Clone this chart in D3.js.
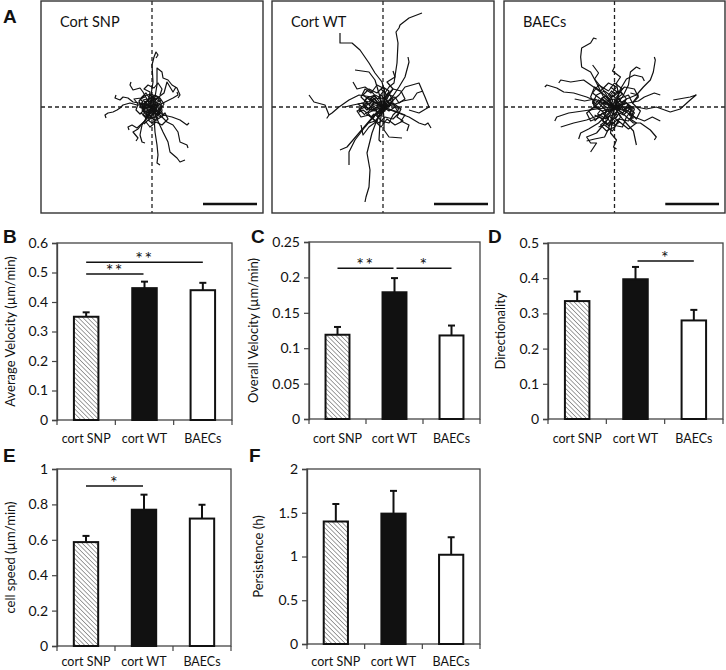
<!DOCTYPE html>
<html><head><meta charset="utf-8">
<script src="https://cdn.jsdelivr.net/npm/d3@7"></script>
<style>body{margin:0;background:#fff}svg{display:block}</style>
</head><body><svg id="c" width="726" height="670"></svg>
<script>
// ---------------- data ----------------
const categories = ["cort SNP", "cort WT", "BAECs"];
const avgVelocity = [0.35, 0.447, 0.44];
const avgVelocityErr = [0.015, 0.022, 0.025];
const overallVelocity = [0.119, 0.179, 0.118];
const overallVelocityErr = [0.011, 0.020, 0.014];
const directionality = [0.335, 0.397, 0.28];
const directionalityErr = [0.027, 0.035, 0.030];
const cellSpeed = [0.587, 0.77, 0.72];
const cellSpeedErr = [0.035, 0.085, 0.078];
const persistence = [1.40, 1.49, 1.02];
const persistenceErr = [0.20, 0.26, 0.20];

const ticksB = [0, 0.1, 0.2, 0.3, 0.4, 0.5, 0.6];
const ticksC = [0, 0.05, 0.1, 0.15, 0.2, 0.25];
const ticksD = [0, 0.1, 0.2, 0.3, 0.4, 0.5];
const ticksE = [0, 0.2, 0.4, 0.6, 0.8, 1];
const ticksF = [0, 0.5, 1, 1.5, 2];

// significance brackets: [fromIndex, toIndex, level (data units), label]
const sigB = [[0, 1, 0.495, "**"], [0, 2, 0.535, "**"]];
const sigC = [[0, 1, 0.213, "**"], [1, 2, 0.213, "*"]];
const sigD = [[1, 2, 0.449, "*"]];
const sigE = [[0, 1, 0.904, "*"]];
const sigF = [];

const trackTitles = ["Cort SNP", "Cort WT", "BAECs"];

// trajectories (relative to origin, x right / y down)
const tracksSNP = [
  "0,0 -1,-12 1,-25 0,-42 2,-50 4,-55 6,-52 4,-49",
  "0,0 3,-10 5,-22 5,-39 10,-35 11,-29 16,-27 20,-22 25,-19 28,-12 26,-9",
  "0,0 -4,-6 -9,-15 -12,-19 -19,-17 -22,-22 -21,-25",
  "0,0 -8,-2 -15,-2 -22,-4 -29,-2 -32,1 -35,3 -39,5 -44,6 -47,8 -46,11",
  "0,0 -7,-3 -19,-5 -24,-9 -29,-10 -32,-7 -37,-9 -36,-12",
  "0,0 -5,6 -7,14 -15,21 -20,18 -24,20 -23,23",
  "0,0 -4,10 -10,18 -12,28 -10,35 -7,36",
  "0,0 -6,12 -14,22 -19,25 -14,31 -16,34",
  "0,0 2,10 3,25 5,38 6,48 5,56 8,58",
  "0,0 5,12 11,25 16,35 18,45 25,51 28,55 33,53",
  "0,0 8,8 15,15 21,18 26,25 28,35 35,38 36,41",
  "0,0 6,4 11,8 20,10 28,13 35,18 37,16",
  "0,0 7,-2 13,-5 21,-9 26,-12 25,-15",
  "0,0 4,-8 12,-14 15,-25 21,-15 24,-20",
  "0,0 -6,-4 -3,-9 3,-7 6,-2 2,4 -5,6 -9,1 -7,-5 0,-10 7,-6",
  "0,0 4,5 -2,9 -8,5 -10,-2 -4,-6 3,-3 8,3 5,9 -1,12 -6,8",
  "0,0 -3,3 -11,0 -13,-6 -8,-11 -1,-13 5,-10 9,-4 10,4 4,10 -4,11 -11,6",
  "0,0 5,-3 9,2 6,7 0,5 -5,9 -9,4 -6,-1 -1,-4 2,-8 -2,-12",
  "0,0 -2,-5 3,-12 8,-9 12,-3 8,3 12,8 6,12 0,16 -4,13 -8,17",
  "0,0 -7,2 -12,7 -16,3 -14,-3 -18,-8 -11,-9 -6,-14 -2,-8",
  "0,0 3,7 9,10 13,6 16,12 10,18 4,15 -2,20 -6,15",
  "0,0 -4,-2 -2,-15 -8,-18 -4,-22 2,-19 6,-24 10,-18 8,-12",
  "0,0 -3,-2 -5,1 -8,-1 -6,-4 -9,-7 -5,-8 -2,-5 1,-7 4,-4 2,-1 5,2 3,5 0,3 -3,6 -6,4",
  "0,0 2,-3 5,-1 7,-4 9,0 6,3 8,6 4,7 1,4 -2,7 -4,3 -7,5 -9,2 -6,0",
  "0,0 -2,4 1,7 -1,10 -4,8 -6,11 -9,8 -7,5 -10,3 -8,0 -11,-3 -7,-3",
  "0,0 3,2 2,-2 6,-1 5,-5 9,-6 7,-9 3,-8 1,-11 -2,-8 -1,-4",
  "0,0 -4,1 -3,-3 -7,-2 -8,2 -11,1 -12,-3 -9,-5 -12,-8 -7,-10",
  "0,0 1,4 4,2 6,6 3,9 6,11 2,13 -1,10 -3,13 -5,9 -2,7"
];
const tracksWT = [
  "0,0 2,-8 2,-14 6,-20 11,-24 14,-44 15,-64 13,-75 16,-79 17,-82 26,-89 39,-94",
  "0,0 2,-14 -1,-25 -8,-34 -14,-44 -23,-57 -31,-64 -43,-64 -43,-74",
  "0,0 -11,-10 -24,-12 -34,-7 -44,0 -51,6 -54,8 -56,11 -54,8 -58,-2 -69,-5 -74,-12",
  "0,0 -5,10 -11,26 -16,46 -13,63 -14,80 -17,90 -18,95",
  "0,0 -8,8 -18,20 -28,33 -34,45 -34,58",
  "0,0 -12,12 -24,26 -36,40 -43,43",
  "0,0 10,4 26,10 36,16 42,18 45,16 48,21",
  "0,0 8,-5 16,-12 22,-20 36,-24 42,-10 46,0 36,6 26,3",
  "0,0 8,-8 16,-20 22,-30 26,-45 25,-50",
  "0,0 1,12 1,23 6,30 19,31",
  "0,0 -3,15 -4,33 -2,35",
  "0,0 -8,-27 -14,-35 -28,-37",
  "0,0 -12,-3 -20,-4 -30,-2 -38,0",
  "0,0 -10,-14 -18,-20 -26,-18 -30,-25",
  "0,0 6,-12 10,-18 4,-25 12,-30 10,-36",
  "0,0 12,4 22,8 18,14 26,18 24,24",
  "0,0 -6,14 -14,20 -20,28 -22,18",
  "0,0 10,-2 20,-6 30,-8 34,-14 40,-16",
  "0,0 -8,-5 -14,2 -20,-3 -16,-9 -8,-12 0,-8 6,-14 10,-6 4,2 -4,6 -12,10 -18,6",
  "0,0 6,4 12,0 16,6 10,12 2,10 -4,16 -10,12 -6,4 -14,-2 -10,-8",
  "0,0 -4,-10 2,-18 -6,-22 -12,-14 -18,-18 -22,-10 -16,-4 -24,2 -18,8",
  "0,0 10,-4 18,2 14,10 20,14 12,18 4,12 -2,20 -8,14 -14,16",
  "0,0 -10,4 -18,0 -26,4 -22,10 -14,8 -8,14 -2,8 4,-2 0,-6 -6,-4",
  "0,0 4,-6 12,-10 16,-4 22,-8 18,-16 10,-18 4,-12 -2,-18",
  "0,0 -6,8 -2,14 6,16 10,8 16,2 8,-4 2,2 -4,-2 -10,-6 -16,-2",
  "0,0 -12,-6 -20,-12 -14,-18 -6,-14 0,-20 6,-16 2,-8 8,-2",
  "0,0 -4,-3 -7,1 -11,-2 -9,-6 -13,-8 -9,-11 -5,-8 -2,-12 2,-8 0,-4 4,-1 2,3 -2,1 -5,5 -9,3",
  "0,0 -3,3 -6,0 -10,3 -13,0 -16,3 -19,0 -15,-3 -18,-6 -14,-5 -11,-9",
  "0,0 2,4 -2,6 -5,10 -9,7 -12,10 -15,6 -11,4 -8,1",
  "0,0 3,-3 6,0 9,-4 7,-8 10,-11 5,-12 3,-8 -1,-10",
  "0,0 -5,0 -8,4 -12,2 -16,6 -20,3 -24,5 -21,0 -25,-3 -20,-4",
  "0,0 -2,-5 -6,-4 -8,-9 -12,-6 -15,-10 -18,-7 -15,-3"
];
const tracksBAEC = [
  "0,0 -11,-10 -18,-24 -24,-35 -33,-40 -34,-50 -33,-59 -24,-64 -21,-69 -18,-68",
  "0,0 -14,-4 -28,-10 -41,-14 -51,-15 -58,-19 -68,-22 -70,-20",
  "0,0 -10,-12 -21,-20 -31,-27 -44,-25 -54,-27 -56,-24",
  "0,0 10,0 22,0 32,2 42,0 56,5 66,2 76,-7 82,-12 76,-10 59,-7",
  "0,0 12,-8 22,-12 29,-20 36,-27 39,-35 41,-47 40,-50",
  "0,0 8,-10 14,-22 16,-35 22,-40 26,-38",
  "0,0 -2,12 -4,26 2,33 -1,40 2,42",
  "0,0 -8,14 -18,26 -28,30 -24,36 -18,36 -24,45",
  "0,0 -10,6 -20,10 -28,13 -41,16 -54,20",
  "0,0 10,8 19,16 26,16 36,23 42,30 40,33",
  "0,0 8,12 19,24 22,38",
  "0,0 -18,2 -32,4 -46,6 -58,10 -60,14",
  "0,0 -12,-18 -20,-28 -16,-34 -22,-42",
  "0,0 4,-12 2,-24 6,-30 -2,-36 0,-40",
  "0,0 14,-4 24,-6 30,-10 40,-14 46,-12",
  "0,0 10,4 20,10 30,14 38,10 46,14",
  "0,0 -16,16 -26,22 -34,26 -36,32",
  "0,0 6,-18 12,-28 20,-32 28,-30 30,-26",
  "0,0 -20,-8 -30,-6 -40,-8",
  "0,0 -6,22 -10,30 -20,32 -28,34",
  "0,0 -10,-6 -16,2 -22,-4 -18,-12 -10,-16 -2,-10 6,-16 12,-8 6,2 -2,8 -12,12 -20,8",
  "0,0 8,6 14,0 20,6 14,14 4,12 -4,18 -12,14 -8,4 -16,-4 -12,-10",
  "0,0 -4,-12 2,-20 -6,-24 -14,-16 -20,-20 -24,-10 -18,-2 -26,4 -20,12",
  "0,0 12,-4 20,2 16,12 22,16 14,22 4,14 -2,24 -10,18 -16,20",
  "0,0 -12,4 -20,0 -28,6 -24,14 -14,10 -8,18 0,10 6,-2 0,-8 -8,-6",
  "0,0 4,-8 14,-12 18,-4 24,-10 20,-18 10,-20 4,-14 -4,-20",
  "0,0 -8,10 -2,18 8,20 12,10 18,2 10,-6 2,2 -6,-2 -12,-8 -18,-2",
  "0,0 -14,-8 -22,-14 -16,-22 -6,-16 0,-24 8,-18 2,-10 10,-2",
  "0,0 6,10 0,20 -8,24 -14,18 -6,12 -12,6 -20,14",
  "0,0 14,4 22,12 26,4 18,-4 24,-12 16,-14",
  "0,0 -4,-3 -7,1 -11,-2 -9,-6 -13,-8 -9,-11 -5,-8 -2,-12 2,-8 0,-4 4,-1 2,3 -2,1 -5,5 -9,3",
  "0,0 -3,4 -7,2 -10,6 -14,3 -17,7 -13,9 -9,12 -5,9 -2,13 2,10",
  "0,0 4,3 7,-1 11,2 13,-2 16,1 12,5 9,8 5,6 2,10",
  "0,0 2,-4 6,-6 4,-10 8,-13 4,-16 0,-13 -3,-16 -6,-12 -3,-8 -7,-5",
  "0,0 -5,-1 -8,-5 -12,-3 -16,-7 -19,-3 -22,-6 -20,1 -15,0",
  "0,0 -1,6 3,8 1,12 5,15 1,18 -3,15 -6,19 -9,15",
  "0,0 6,-2 9,3 13,0 17,4 15,8 19,11 14,12"
];
const allTracks = [tracksSNP, tracksWT, tracksBAEC];

// ---------------- drawing ----------------
const svg = d3.select("#c");
const FONT = "Lato, 'Open Sans', sans-serif";

const defs = svg.append("defs");
defs.append("pattern").attr("id", "hatch").attr("patternUnits", "userSpaceOnUse")
  .attr("width", 3.2).attr("height", 3.2).attr("patternTransform", "rotate(-45)")
  .call(p => {
    p.append("rect").attr("width", 3.2).attr("height", 3.2).attr("fill", "#fff");
    p.append("line").attr("x1", 0).attr("y1", 0).attr("x2", 0).attr("y2", 3.2)
      .attr("stroke", "#8a8a8a").attr("stroke-width", 1.6);
  });
const fills = ["url(#hatch)", "#111", "#fff"];

function panelLetter(t, x, y) {
  svg.append("text").attr("x", x).attr("y", y).text(t)
    .attr("font-family", "Arial, 'Liberation Sans', sans-serif").attr("font-weight", "bold")
    .attr("font-size", 19).attr("fill", "#111");
}

// --- A: trajectory panels
const trackFrames = [[41, 263], [272, 494], [504, 725]];
const line = d3.line();
allTracks.forEach((tracks, i) => {
  const [x0, x1] = trackFrames[i];
  const y0 = 1, y1 = 213;
  const xs = d3.scaleLinear().domain([-111, 111]).range([x0, x1]);
  const ys = d3.scaleLinear().domain([-106, 106]).range([y0, y1]);
  const g = svg.append("g");
  g.append("line").attr("x1", xs(0)).attr("x2", xs(0)).attr("y1", y0).attr("y2", y1)
    .attr("stroke", "#222").attr("stroke-width", 1.3).attr("stroke-dasharray", "4,3");
  g.append("line").attr("x1", x0).attr("x2", x1).attr("y1", ys(0)).attr("y2", ys(0))
    .attr("stroke", "#222").attr("stroke-width", 1.3).attr("stroke-dasharray", "4,3");
  tracks.forEach(s => {
    const pts = s.split(" ").map(p => p.split(",").map(Number)).map(([a, b]) => [xs(a), ys(b)]);
    g.append("path").attr("d", line(pts)).attr("fill", "none")
      .attr("stroke", "#111").attr("stroke-width", 1.2).attr("stroke-linejoin", "round");
  });
  g.append("rect").attr("x", x0).attr("y", y0).attr("width", x1 - x0).attr("height", y1 - y0)
    .attr("fill", "none").attr("stroke", "#333").attr("stroke-width", 1.4);
  g.append("text").attr("x", x0 + 19).attr("y", 27).text(trackTitles[i])
    .attr("font-family", FONT).attr("font-size", 14.5).attr("fill", "#111");
  g.append("line").attr("x1", xs(51)).attr("x2", xs(105)).attr("y1", ys(97)).attr("y2", ys(97))
    .attr("stroke", "#111").attr("stroke-width", 2.6);
});
panelLetter("A", 3, 23);

// --- bar charts
function barChart(o) {
  const g = svg.append("g");
  const x = d3.scaleBand().domain(categories).range([o.x0, o.x1]).paddingInner(0).paddingOuter(0);
  const y = d3.scaleLinear().domain([0, o.max]).range([o.y1, o.y0]);
  const bw = x.bandwidth() * 0.42;
  const cx = c => x(c) + x.bandwidth() / 2;
  g.append("rect").attr("x", o.x0).attr("y", o.y0).attr("width", o.x1 - o.x0).attr("height", o.y1 - o.y0)
    .attr("fill", "#fff").attr("stroke", "#444").attr("stroke-width", 1.3);
  categories.forEach((c, i) => {
    g.append("rect").attr("x", cx(c) - bw / 2).attr("y", y(o.values[i]))
      .attr("width", bw).attr("height", y(0) - y(o.values[i]))
      .attr("fill", fills[i]).attr("stroke", "#111").attr("stroke-width", 2);
    const top = y(o.values[i] + o.errs[i]);
    g.append("line").attr("x1", cx(c)).attr("x2", cx(c)).attr("y1", y(o.values[i])).attr("y2", top)
      .attr("stroke", "#111").attr("stroke-width", 2);
    g.append("line").attr("x1", cx(c) - 3.5).attr("x2", cx(c) + 3.5).attr("y1", top).attr("y2", top)
      .attr("stroke", "#111").attr("stroke-width", 2);
  });
  const ya = g.append("g").attr("transform", `translate(${o.x0},0)`)
    .call(d3.axisLeft(y).tickValues(o.ticks).tickSize(5).tickPadding(4).tickFormat(d3.format("")));
  ya.select(".domain").attr("stroke", "#444").attr("stroke-width", 1.3);
  ya.selectAll(".tick line").attr("stroke", "#444").attr("stroke-width", 1.2);
  ya.selectAll(".tick text").attr("font-family", FONT).attr("font-size", 14).attr("fill", "#111");
  const xa = g.append("g").attr("transform", `translate(0,${o.y1})`)
    .call(d3.axisBottom(x).tickSize(0).tickPadding(o.xpad));
  xa.select(".domain").remove();
  xa.selectAll(".tick text").attr("font-family", FONT).attr("font-size", 12.5).attr("fill", "#111");
  [o.x0, ...categories.map(c => x(c) + x.bandwidth())].forEach(v => {
    g.append("line").attr("x1", v).attr("x2", v).attr("y1", o.y1).attr("y2", o.y1 + 5)
      .attr("stroke", "#444").attr("stroke-width", 1.2);
  });
  g.append("text").attr("transform", `translate(${o.x0 - o.labelOff},${(o.y0 + o.y1) / 2}) rotate(-90)`)
    .attr("text-anchor", "middle").attr("dominant-baseline", "middle").text(o.label)
    .attr("font-family", FONT).attr("font-size", 13).attr("fill", "#111");
  o.sig.forEach(([a, b, lv, lab]) => {
    const xa1 = cx(categories[a]) + (a === 1 ? 2 : 0);
    const xb1 = cx(categories[b]) - (b === 1 ? 1 : 0);
    g.append("line").attr("x1", xa1).attr("x2", xb1).attr("y1", y(lv)).attr("y2", y(lv))
      .attr("stroke", "#111").attr("stroke-width", 1.6);
    g.append("text").attr("x", (xa1 + xb1) / 2).attr("y", y(lv) + 3).attr("text-anchor", "middle")
      .text(lab).attr("font-family", FONT).attr("font-size", 18).attr("letter-spacing", 1.5).attr("fill", "#111");
  });
}

barChart({x0: 57, x1: 232, y0: 243, y1: 420, max: 0.6, ticks: ticksB, values: avgVelocity, errs: avgVelocityErr,
  label: "Average Velocity (\u00b5m/min)", labelOff: 45, sig: sigB, xpad: 14});
barChart({x0: 309, x1: 480, y0: 242, y1: 419, max: 0.25, ticks: ticksC, values: overallVelocity, errs: overallVelocityErr,
  label: "Overall Velocity (\u00b5m/min)", labelOff: 54, sig: sigC, xpad: 15});
barChart({x0: 548, x1: 723, y0: 243, y1: 419, max: 0.5, ticks: ticksD, values: directionality, errs: directionalityErr,
  label: "Directionality", labelOff: 46, sig: sigD, xpad: 15});
barChart({x0: 57, x1: 231, y0: 469, y1: 646, max: 1, ticks: ticksE, values: cellSpeed, errs: cellSpeedErr,
  label: "cell speed (\u00b5m/min)", labelOff: 45, sig: sigE, xpad: 11});
barChart({x0: 307, x1: 480, y0: 469, y1: 644, max: 2, ticks: ticksF, values: persistence, errs: persistenceErr,
  label: "Persistence (h)", labelOff: 47, sig: sigF, xpad: 13});

panelLetter("B", 3, 243);
panelLetter("C", 251, 243);
panelLetter("D", 488, 243);
panelLetter("E", 3, 462);
panelLetter("F", 249, 462);
</script></body></html>
